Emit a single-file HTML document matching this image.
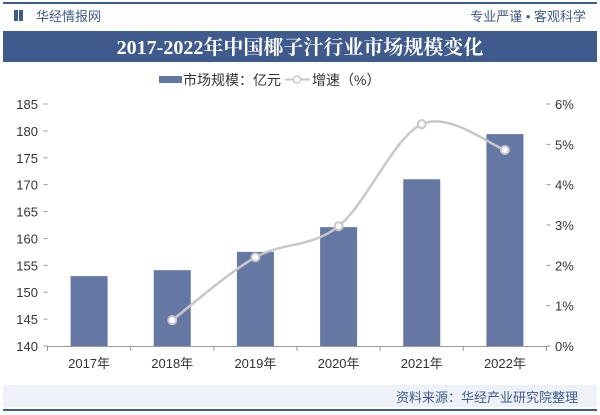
<!DOCTYPE html>
<html><head><meta charset="utf-8"><style>
body{margin:0;width:600px;height:415px;background:#fff;font-family:"Liberation Sans","Noto Sans CJK SC",sans-serif;overflow:hidden;position:relative}
</style></head><body>
<svg width="600" height="415" style="position:absolute;left:0;top:0">
<rect x="3" y="2" width="594" height="2" fill="#3f5a8c"/>
<rect x="14" y="10" width="4" height="11" fill="#3f5a8c"/>
<rect x="19" y="10" width="4" height="11" fill="#3f5a8c"/>
<text x="36" y="21" font-size="13" fill="#3f5a8c">华经情报网</text>
<text x="586" y="21" font-size="13" fill="#3f5a8c" text-anchor="end">专业严谨 • 客观科学</text>
<rect x="3" y="31" width="594" height="31" fill="#3f5a8c"/>
<text x="300" y="54" font-size="20" font-weight="bold" fill="#fff" text-anchor="middle" font-family="Liberation Serif,Noto Serif CJK SC,serif">2017-2022年中国椰子汁行业市场规模变化</text>
<rect x="159" y="76" width="23" height="7" fill="#6478a3"/>
<text x="183" y="85" font-size="14" fill="#333">市场规模：亿元</text>
<line x1="285" y1="79.5" x2="310" y2="79.5" stroke="#c8c8c8" stroke-width="2"/>
<circle cx="297" cy="79.5" r="3.5" fill="#fff" stroke="#c8c8c8" stroke-width="1.5"/>
<text x="312" y="85" font-size="14" fill="#333">增速（%）</text>
<g id="axes"></g><g id="marks"></g>
<rect x="3" y="385" width="594" height="22" fill="#eef2f8"/>
<text x="578" y="402" font-size="13" fill="#3f5a8c" text-anchor="end">资料来源：华经产业研究院整理</text>
<rect x="3" y="409" width="594" height="2" fill="#3f5a8c"/>
</svg>
<script>
const categories=["2017年","2018年","2019年","2020年","2021年","2022年"];
const marketSize=[153.0,154.1,157.5,162.1,171.0,179.4];
const growth=[null,0.64,2.2,2.97,5.5,4.86];
const leftTicks=[140,145,150,155,160,165,170,175,180,185];
const rightTicks=[0,1,2,3,4,5,6];
const NS="http://www.w3.org/2000/svg";
const x0=47.5,x1=546.5,yB=346,yT=104;
const band=(x1-x0)/categories.length;
const xc=i=>x0+band*(i+0.5);
const yL=v=>yB-(v-140)/45*(yB-yT);
const yR=v=>yB-v/6*(yB-yT);
function mk(t,a,p){const e=document.createElementNS(NS,t);for(const k in a)e.setAttribute(k,a[k]);p.appendChild(e);return e;}
const ax=document.getElementById('axes'),mg=document.getElementById('marks');
const xl=mk('line',{x1:x0,y1:yB+0.5,x2:x1,y2:yB+0.5,stroke:'#999'},ax);


for(let i=0;i<=categories.length;i++)mk('line',{x1:x0+band*i,y1:yB,x2:x0+band*i,y2:yB+5,stroke:'#999'},ax);
leftTicks.forEach(v=>{const t=mk('text',{x:38,y:yL(v)+5,'font-size':13,fill:'#333','text-anchor':'end'},ax);t.textContent=v;


mk('line',{x1:x0-4,y1:yL(v),x2:x0,y2:yL(v),stroke:'#999'},ax);});
rightTicks.forEach(v=>{const t=mk('text',{x:555,y:yR(v)+5,'font-size':13,fill:'#333'},ax);t.textContent=v+'%';


mk('line',{x1:x1,y1:yR(v),x2:x1+4,y2:yR(v),stroke:'#999'},ax);});
categories.forEach((c,i)=>{const t=mk('text',{x:xc(i),y:368,'font-size':13,fill:'#333','text-anchor':'middle'},ax);t.textContent=c;

});
marketSize.forEach((v,i)=>{const r=mk('rect',{x:xc(i)-18.5,y:yL(v),width:37,height:yB-yL(v),fill:'#6478a3'},mg);

});
const pts=[];growth.forEach((v,i)=>{if(v!==null)pts.push([xc(i),yR(v)]);});
let d='M'+pts[0][0]+','+pts[0][1];
for(let i=0;i<pts.length-1;i++){const p0=pts[i-1]||pts[i],p1=pts[i],p2=pts[i+1],p3=pts[i+2]||p2;
d+=' C'+(p1[0]+(p2[0]-p0[0])/6)+','+(p1[1]+(p2[1]-p0[1])/6)+' '+(p2[0]-(p3[0]-p1[0])/6)+','+(p2[1]-(p3[1]-p1[1])/6)+' '+p2[0]+','+p2[1];}
const ln=mk('path',{d:d,fill:'none',stroke:'#c8c8c8','stroke-width':2.5},mg);


pts.forEach(p=>{const c=mk('circle',{cx:p[0],cy:p[1],r:4,fill:'#fff',stroke:'#c8c8c8','stroke-width':2},mg);

});
</script>
</body></html>
